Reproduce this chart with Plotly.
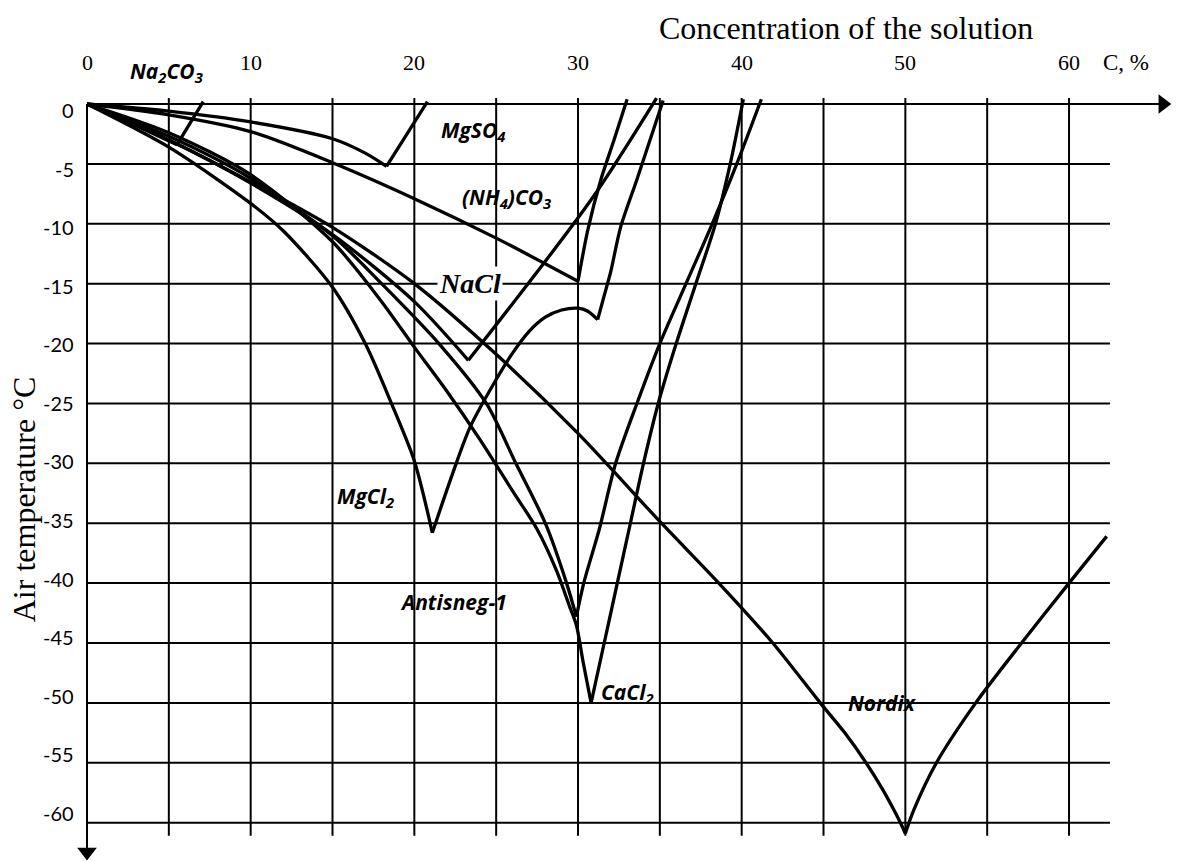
import plotly.graph_objects as go

# ---------------- data (concentration %, temperature °C) ----------------
na2co3_desc_c = [0, 2.5, 5.5]
na2co3_desc_t = [0, -1.5, -3.4]
na2co3_rise_c = [5.5, 7.1]
na2co3_rise_t = [-3.4, 0.2]

mgso4_desc_c = [0, 5, 10, 15, 17, 18.3]
mgso4_desc_t = [0, -0.6, -1.5, -2.9, -4.1, -5.2]
mgso4_rise_c = [18.3, 20.8]
mgso4_rise_t = [-5.2, 0.2]

nh4_desc_c = [0, 5, 10, 15, 20, 25, 30]
nh4_desc_t = [0, -0.9, -2.3, -4.9, -7.9, -11.2, -14.8]
nh4_rise_c = [30, 30.6, 31.4, 32.2, 33.0]
nh4_rise_t = [-14.8, -10.5, -6.3, -3.0, 0.4]

nacl_desc_c = [0, 5, 10, 15, 20, 23.3]
nacl_desc_t = [0, -3.0, -6.6, -10.9, -16.5, -21.4]
nacl_rise_c = [23.3, 30.8, 34.8]
nacl_rise_t = [-21.4, -8.0, 0.5]

mgcl2_desc_c = [0, 5, 10, 12, 15, 17, 18.6, 20, 21.1]
mgcl2_desc_t = [0, -3.6, -8.3, -10.6, -15.3, -20, -25, -29.8, -35.8]
mgcl2_rise_c = [21.1, 22.3, 23.4, 25, 26, 27, 28, 29, 30, 30.6, 31.2]
mgcl2_rise_t = [-35.8, -31, -27, -23, -20.8, -19, -17.8, -17.2, -17.05, -17.3, -18]
mgcl2_rise2_c = [31.2, 31.6, 32.0, 32.6, 33.6, 35.2]
mgcl2_rise2_t = [-18, -16, -14, -10.3, -6.3, 0.3]

cacl2_desc_c = [0, 5, 10, 15, 18, 20, 22, 24, 26, 27.5, 28.7, 29.5, 29.9, 30.3, 30.8]
cacl2_desc_t = [0, -2.4, -5.9, -11.5, -16.5, -20.3, -24, -28, -32.3, -35.5, -39, -42, -43.5, -46.5, -50]
cacl2_rise_c = [30.8, 31.6, 32.4, 33.2, 34.0, 34.9, 36.0, 37.2, 38.4, 39.3, 40.1]
cacl2_rise_t = [-50, -45, -40, -35, -30, -25, -20, -15, -10, -5, 0.4]

anti_desc_c = [0, 5, 10, 15, 18, 21.5, 24.4, 26.2, 28, 29.3, 29.9]
anti_desc_t = [0, -2.7, -6.2, -11, -15, -20, -25, -30, -35, -40, -42.8]
anti_rise_c = [29.9, 30.35, 31.3, 32.3, 33.6, 35.0, 36.6, 38.2, 39.7, 41.2]
anti_rise_t = [-42.8, -40, -35.5, -30, -25, -20, -15, -10, -5, 0.4]

nordix_desc_c = [0, 5, 10, 15, 20, 25, 30, 35.1, 38.6, 41.9, 44.8, 46.3, 47.6, 48.6, 49.4, 49.8, 50]
nordix_desc_t = [0, -3, -6.5, -10.3, -15, -20.9, -27.5, -35, -40, -45, -50, -52.5, -55, -57.2, -59.2, -60.3, -60.9]
nordix_rise_c = [50, 50.5, 51.9, 54.3, 57.1, 60, 62.3]
nordix_rise_t = [-60.9, -59, -55, -50, -45, -40, -36.1]

x_ticks = [0, 10, 20, 30, 40, 50, 60]
y_ticks = [0, -5, -10, -15, -20, -25, -30, -35, -40, -45, -50, -55, -60]
grid_c = [5, 10, 15, 20, 25, 30, 35, 40, 45, 50, 55, 60]
grid_t = [-5, -10, -15, -20, -25, -30, -35, -40, -45, -50, -55, -60]

labels = [
    ("Na<sub>2</sub>CO<sub>3</sub>", 4.85, 2.67),
    ("MgSO<sub>4</sub>", 23.6, -2.25),
    ("(NH<sub>4</sub>)CO<sub>3</sub>", 25.6, -7.85),
    ("MgCl<sub>2</sub>", 17.0, -32.8),
    ("Antisneg-1", 22.4, -41.6),
    ("CaCl<sub>2</sub>", 33.0, -49.2),
    ("Nordix", 48.6, -50.0),
]

# ---------------- figure ----------------
W, H = 1179, 861
X0_PX, PX_PER_C = 87.0, 16.367
Y0_PX, PX_PER_T = 104.0, 11.978
x_range = [-X0_PX / PX_PER_C, (W - X0_PX) / PX_PER_C]
y_range = [-(H - Y0_PX) / PX_PER_T, Y0_PX / PX_PER_T]

fig = go.Figure()

shapes = []
for c in grid_c:
    shapes.append(dict(type="line", xref="x", yref="y", x0=c, x1=c, y0=0.5, y1=-61.1,
                       line=dict(color="black", width=2)))
for t in grid_t:
    shapes.append(dict(type="line", xref="x", yref="y", x0=0, x1=62.5, y0=t, y1=t,
                       line=dict(color="black", width=2)))
# axes
shapes.append(dict(type="line", xref="x", yref="y", x0=0, x1=65.5, y0=0, y1=0,
                   line=dict(color="black", width=2)))
shapes.append(dict(type="line", xref="x", yref="y", x0=0, x1=0, y0=0, y1=-62.2,
                   line=dict(color="black", width=2)))

segments = [
    (na2co3_desc_c, na2co3_desc_t), (na2co3_rise_c, na2co3_rise_t),
    (mgso4_desc_c, mgso4_desc_t), (mgso4_rise_c, mgso4_rise_t),
    (nh4_desc_c, nh4_desc_t), (nh4_rise_c, nh4_rise_t),
    (nacl_desc_c, nacl_desc_t), (nacl_rise_c, nacl_rise_t),
    (mgcl2_desc_c, mgcl2_desc_t), (mgcl2_rise_c, mgcl2_rise_t), (mgcl2_rise2_c, mgcl2_rise2_t),
    (cacl2_desc_c, cacl2_desc_t), (cacl2_rise_c, cacl2_rise_t),
    (anti_desc_c, anti_desc_t), (anti_rise_c, anti_rise_t),
    (nordix_desc_c, nordix_desc_t), (nordix_rise_c, nordix_rise_t),
]
for cx, ty in segments:
    fig.add_trace(go.Scatter(x=cx, y=ty, mode="lines",
                             line=dict(color="black", width=3.3, shape="spline", smoothing=0.8),
                             showlegend=False, hoverinfo="skip"))

# axis arrowheads
fig.add_trace(go.Scatter(x=[65.73], y=[0], mode="markers",
                         marker=dict(symbol="triangle-right", size=17, color="black"),
                         showlegend=False, hoverinfo="skip"))
fig.add_trace(go.Scatter(x=[0], y=[-62.45], mode="markers",
                         marker=dict(symbol="triangle-down", size=17, color="black"),
                         showlegend=False, hoverinfo="skip"))

ann = []
serif = "Liberation Serif, Times New Roman, serif"
sans = "Lato, Open Sans, sans-serif"
lab_font = "Open Sans, Lato, sans-serif"
for v in x_ticks:
    ann.append(dict(x=v, y=3.5, xref="x", yref="y", text=str(v), showarrow=False,
                    font=dict(family=serif, size=22, color="black")))
ann.append(dict(x=63.5, y=3.5, xref="x", yref="y", text="C, %", showarrow=False,
                font=dict(family=serif, size=23, color="black")))
for v in y_ticks:
    ann.append(dict(x=-0.7, y=-0.5 + 0.978 * v, xref="x", yref="y", text=str(v), showarrow=False,
                    xanchor="right", yanchor="middle", font=dict(family=sans, size=20, color="black")))
ann.append(dict(x=46.4, y=6.35, xref="x", yref="y", text="Concentration of the solution",
                showarrow=False, font=dict(family=serif, size=32, color="black")))
ann.append(dict(x=-3.85, y=-33.0, xref="x", yref="y", text="Air temperature °C",
                showarrow=False, textangle=-90, font=dict(family=serif, size=32, color="black")))
for txt, cx, ty in labels:
    ann.append(dict(x=cx, y=ty, xref="x", yref="y", text="<b><i>" + txt + "</i></b>",
                    showarrow=False, font=dict(family=lab_font, size=21, color="black")))
ann.append(dict(x=23.4, y=-15.0, xref="x", yref="y", text="<b><i>NaCl</i></b>",
                showarrow=False, bgcolor="white",
                font=dict(family=serif, size=28, color="black")))

fig.update_layout(
    width=W, height=H, margin=dict(l=0, r=0, t=0, b=0),
    paper_bgcolor="white", plot_bgcolor="white",
    xaxis=dict(range=x_range, visible=False, fixedrange=True),
    yaxis=dict(range=y_range, visible=False, fixedrange=True),
    shapes=shapes, annotations=ann,
)

fig.write_html("out.html")
